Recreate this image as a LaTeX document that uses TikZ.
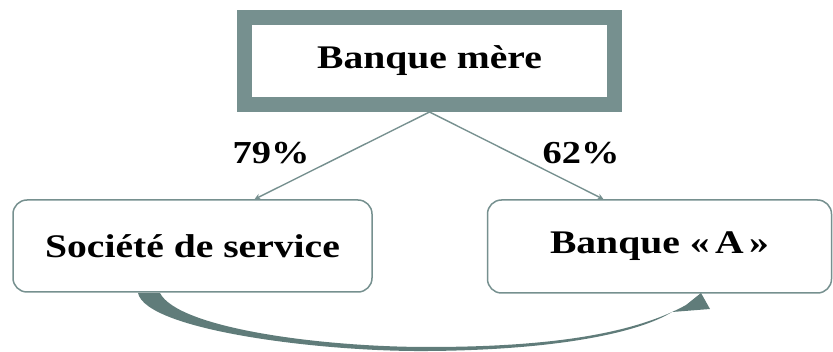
\documentclass[tikz,border=0pt]{standalone}
\usepackage{fontspec}
\setmainfont{Liberation Serif}[FakeStretch=1.2]
\usetikzlibrary{arrows.meta,calc}
\definecolor{bordc}{RGB}{118,144,143}
\definecolor{arrc}{RGB}{96,124,122}
\tikzset{
  topbox/.style={draw=bordc, line width=15pt, fill=white, minimum width=370pt, minimum height=87pt, inner sep=0pt, font=\fontsize{33}{36}\selectfont\bfseries},
  subbox/.style={draw=bordc, line width=1.5pt, fill=white, rounded corners=14pt, inner sep=0pt, font=\fontsize{33}{36}\selectfont\bfseries},
  conn/.style={draw=bordc, line width=1.4pt, -{Stealth[length=6pt,width=6pt]}},
  pct/.style={font=\fontsize{32}{34}\selectfont\bfseries, inner sep=0pt}
}
\begin{document}
\begin{tikzpicture}[x=1pt,y=-1pt]
\useasboundingbox (0,0) rectangle (833,352);
\node[topbox] (mere) at (429.5,61) {Banque mère};
\node[subbox, minimum width=359pt, minimum height=92pt] (soc) at (192.5,246) {Société de service};
\node[subbox, minimum width=344pt, minimum height=93pt] (bqa) at (659.5,246.5) {Banque «\,A\,»};
\draw[conn] (mere.south) -- ([xshift=62pt]soc.north);
\draw[conn] (mere.south) -- ([xshift=-56pt]bqa.north);
\node[pct] (p79) at (271,153) {79\%};
\node[pct] (p62) at (581,153) {62\%};
\fill[arrc]
  (138,293) .. controls (146,330) and (320,352) .. (428,351)
  .. controls (560,350) and (640,332) .. (672,312)
  -- (710,309) -- (701,293) -- (686,305)
  .. controls (630,336) and (540,347) .. (428,347)
  .. controls (320,347) and (178,328) .. (160,293) -- cycle;
\end{tikzpicture}
\end{document}
